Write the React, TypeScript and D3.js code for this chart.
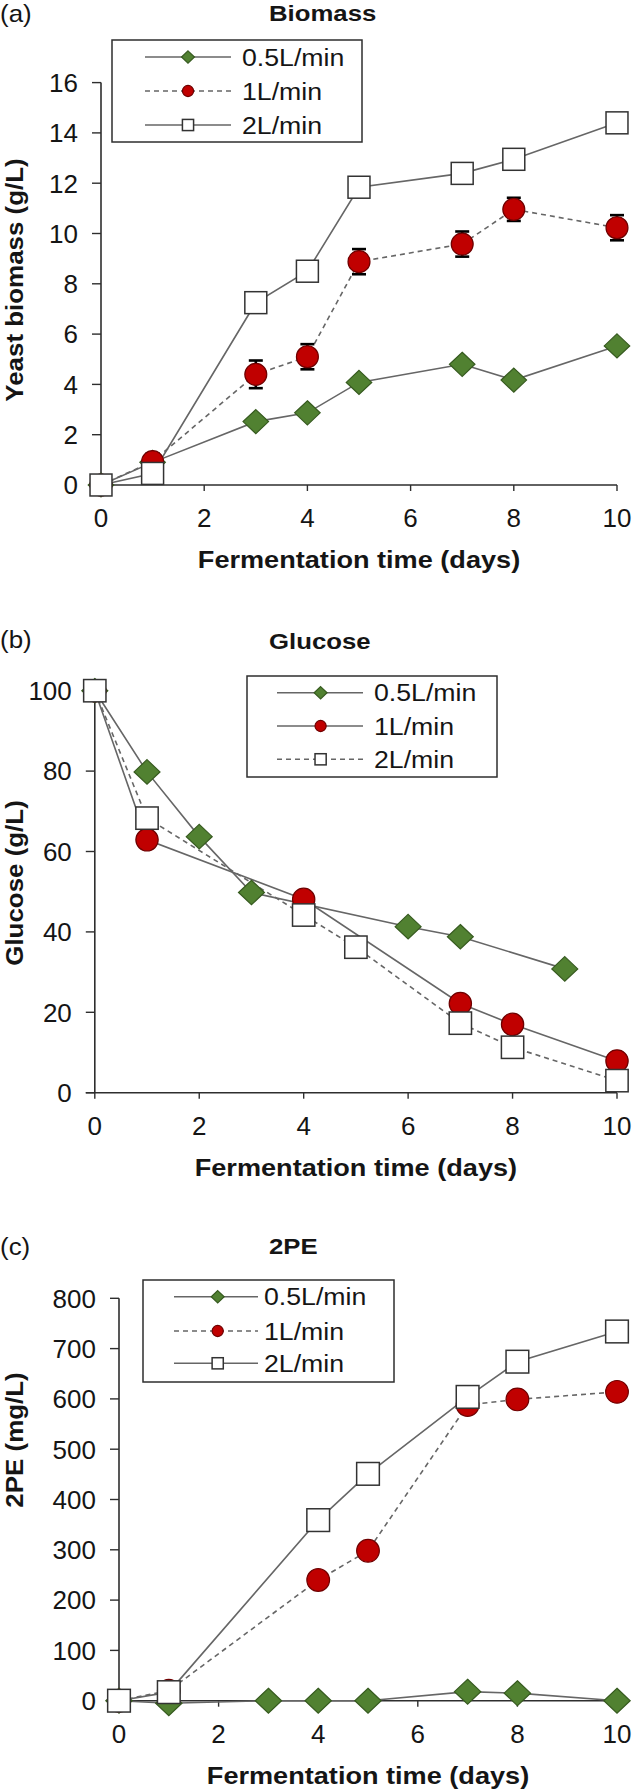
import React from 'react';
import * as d3 from 'd3';

// ---------- DATA ----------
const seriesNames = ['0.5L/min', '1L/min', '2L/min'];

// Biomass (g/L)
const bioDays05 = [0, 1, 3, 4, 5, 7, 8, 10];
const bio05 = [0, 0.9, 2.52, 2.87, 4.08, 4.8, 4.17, 5.53];
const bioDays1 = [0, 1, 3, 4, 5, 7, 8, 10];
const bio1 = [0, 0.93, 4.4, 5.1, 8.88, 9.58, 10.96, 10.23];
const bio1Err = [0, 0.33, 0.55, 0.5, 0.5, 0.5, 0.46, 0.5];
const bioDays2 = [0, 1, 3, 4, 5, 7, 8, 10];
const bio2 = [0, 0.46, 7.25, 8.5, 11.84, 12.39, 12.95, 14.4];

// Glucose (g/L)
const gluDays05 = [0, 1, 2, 3, 6, 7, 9];
const glu05 = [100, 79.8, 63.7, 49.8, 41.3, 38.8, 30.8];
const gluDays1 = [0, 1, 4, 7, 8, 10];
const glu1 = [100, 62.9, 48.1, 22.2, 17.0, 7.9];
const gluDays2 = [0, 1, 4, 5, 7, 8, 10];
const glu2 = [100, 68.3, 44.2, 36.2, 17.3, 11.3, 3.0];

// 2PE (mg/L)
const peDays05 = [0, 1, 3, 4, 5, 7, 8, 10];
const pe05 = [0, -5, 0, 0, 0, 18, 15, 0];
const peDays1 = [0, 1, 4, 5, 7, 8, 10];
const pe1 = [0, 20, 240, 298, 588, 599, 614];
const peDays2 = [0, 1, 4, 5, 7, 8, 10];
const pe2 = [0, 17, 359, 451, 604, 674, 734];

const xTicks = [0, 2, 4, 6, 8, 10];
const bioTicks = [0, 2, 4, 6, 8, 10, 12, 14, 16];
const gluTicks = [0, 20, 40, 60, 80, 100];
const peTicks = [0, 100, 200, 300, 400, 500, 600, 700, 800];

// ---------- STYLE ----------
const FONT = "'Liberation Sans', Arial, Helvetica, sans-serif";
const TXT = '#151515';
const AXIS = '#2e2e2e';
const LINE = '#666666';
const GREEN = '#518131';
const GREEN_S = '#365a1f';
const RED = '#c00000';
const RED_S = '#6e0000';
const SQ_S = '#333333';

type MarkerType = 'diamond' | 'circle' | 'square';

function Marker({ type, x, y, s }: { type: MarkerType; x: number; y: number; s: number }) {
  if (type === 'diamond') {
    const h = s * 1.02;
    const w = s * 1.08;
    return (
      <path
        d={`M${x},${y - h}L${x + w},${y}L${x},${y + h}L${x - w},${y}Z`}
        fill={GREEN}
        stroke={GREEN_S}
        strokeWidth={1.2}
      />
    );
  }
  if (type === 'circle') {
    return <circle cx={x} cy={y} r={s * 0.93} fill={RED} stroke={RED_S} strokeWidth={1.2} />;
  }
  return (
    <rect x={x - s * 0.93} y={y - s * 0.93} width={s * 1.86} height={s * 1.86} fill="#fff" stroke={SQ_S} strokeWidth={1.5} />
  );
}

function T({
  x, y, size, bold = false, anchor = 'middle', sx = 1, rotate = false, children,
}: {
  x: number; y: number; size: number; bold?: boolean; anchor?: string; sx?: number; rotate?: boolean; children: React.ReactNode;
}) {
  return (
    <text
      transform={`translate(${x},${y})${rotate ? ' rotate(-90)' : ''} scale(${sx},1)`}
      textAnchor={anchor as any}
      fontSize={size}
      fontWeight={bold ? 'bold' : 'normal'}
      fontFamily={FONT}
      fill={TXT}
    >
      {children}
    </text>
  );
}

type Series = {
  days: number[];
  values: number[];
  err?: number[];
  marker: MarkerType;
  dashed: boolean;
};

type PanelCfg = {
  letter: string;
  letterY: number;
  title: string;
  titleY: number;
  yLabel: string;
  yLabelY: number;
  yDomain: [number, number];
  yTicks: number[];
  xRange: [number, number];
  yRange: [number, number];
  series: Series[];
  legend: { x: number; y: number; w: number; h: number; rows: number[]; l1: number; l2: number; mx: number; tx: number };
  markerSize: number;
};

function Panel({ cfg }: { cfg: PanelCfg }) {
  const x = d3.scaleLinear().domain([0, 10]).range(cfg.xRange);
  const y = d3.scaleLinear().domain(cfg.yDomain).range(cfg.yRange);
  const ax = cfg.xRange[0];
  const ay = cfg.yRange[0];
  const tickL = 9;
  const lineGen = d3
    .line<[number, number]>()
    .x((d) => x(d[0]))
    .y((d) => y(d[1]));
  const lg = cfg.legend;
  return (
    <g>
      <T x={0} y={cfg.letterY} size={24} sx={1.08} anchor="start">
        {cfg.letter}
      </T>
      <T x={269} y={cfg.titleY} size={23} bold sx={1.12} anchor="start">
        {cfg.title}
      </T>
      <T x={23} y={cfg.yLabelY} size={24} bold sx={1.08} rotate>
        {cfg.yLabel}
      </T>
      {/* axes */}
      <line x1={ax} x2={ax} y1={ay} y2={y(cfg.yDomain[1])} stroke={AXIS} strokeWidth={1.6} />
      <line x1={ax - tickL} x2={cfg.xRange[1]} y1={ay} y2={ay} stroke={AXIS} strokeWidth={1.6} />
      {cfg.yTicks.map((t) => (
        <g key={'yt' + t}>
          <line x1={ax - tickL} x2={ax} y1={y(t)} y2={y(t)} stroke={AXIS} strokeWidth={1.4} />
          <T x={ax - 23} y={y(t) + 9.3} size={26} anchor="end">
            {t}
          </T>
        </g>
      ))}
      {xTicks.map((t) => (
        <g key={'xt' + t}>
          <line x1={x(t)} x2={x(t)} y1={ay} y2={ay + 6} stroke={AXIS} strokeWidth={1.4} />
          <T x={x(t)} y={ay + 42} size={26}>
            {t}
          </T>
        </g>
      ))}
      <T x={(cfg.xRange[0] + cfg.xRange[1]) / 2} y={ay + 83} size={24} bold sx={1.13}>
        Fermentation time (days)
      </T>
      {/* lines */}
      {cfg.series.map((s, i) => (
        <path
          key={'l' + i}
          d={lineGen(s.days.map((d, j) => [d, s.values[j]] as [number, number])) || ''}
          fill="none"
          stroke={LINE}
          strokeWidth={1.6}
          strokeDasharray={s.dashed ? '5,4' : undefined}
        />
      ))}
      {/* markers */}
      {cfg.series.map((s, i) => (
        <g key={'m' + i}>
          {s.days.map((d, j) => (
            <g key={j}>
              {s.err && s.err[j] > 0 ? (
                <g stroke="#000" strokeWidth={2.6}>
                  <line x1={x(d)} x2={x(d)} y1={y(s.values[j] - s.err[j])} y2={y(s.values[j] + s.err[j])} />
                  <line x1={x(d) - 7} x2={x(d) + 7} y1={y(s.values[j] + s.err[j])} y2={y(s.values[j] + s.err[j])} />
                  <line x1={x(d) - 7} x2={x(d) + 7} y1={y(s.values[j] - s.err[j])} y2={y(s.values[j] - s.err[j])} />
                </g>
              ) : null}
              <Marker type={s.marker} x={x(d)} y={y(s.values[j])} s={cfg.markerSize} />
            </g>
          ))}
        </g>
      ))}
      {/* legend */}
      <rect x={lg.x} y={lg.y} width={lg.w} height={lg.h} fill="#fff" stroke={AXIS} strokeWidth={1.5} />
      {cfg.series.map((s, i) => (
        <g key={'lg' + i}>
          <line
            x1={lg.l1}
            x2={lg.l2}
            y1={lg.rows[i]}
            y2={lg.rows[i]}
            stroke={LINE}
            strokeWidth={1.6}
            strokeDasharray={s.dashed ? '5,4' : undefined}
          />
          <Marker type={s.marker} x={lg.mx} y={lg.rows[i]} s={6} />
          <T x={lg.tx} y={lg.rows[i] + 8.5} size={23} anchor="start" sx={1.16}>
            {seriesNames[i]}
          </T>
        </g>
      ))}
    </g>
  );
}

const panels: PanelCfg[] = [
  {
    letter: '(a)',
    letterY: 22,
    title: 'Biomass',
    titleY: 21,
    yLabel: 'Yeast biomass  (g/L)',
    yLabelY: 280,
    yDomain: [0, 16],
    yTicks: bioTicks,
    xRange: [101, 617],
    yRange: [485, 82.6],
    markerSize: 11.8,
    series: [
      { days: bioDays05, values: bio05, marker: 'diamond', dashed: false },
      { days: bioDays1, values: bio1, err: bio1Err, marker: 'circle', dashed: true },
      { days: bioDays2, values: bio2, marker: 'square', dashed: false },
    ],
    legend: { x: 112, y: 40, w: 250, h: 102, rows: [57, 91, 125], l1: 145, l2: 231, mx: 188, tx: 242 },
  },
  {
    letter: '(b)',
    letterY: 648,
    title: 'Glucose',
    titleY: 649,
    yLabel: 'Glucose  (g/L)',
    yLabelY: 883,
    yDomain: [0, 100],
    yTicks: gluTicks,
    xRange: [94.8, 617],
    yRange: [1092.7, 690.7],
    markerSize: 12,
    series: [
      { days: gluDays05, values: glu05, marker: 'diamond', dashed: false },
      { days: gluDays1, values: glu1, marker: 'circle', dashed: false },
      { days: gluDays2, values: glu2, marker: 'square', dashed: true },
    ],
    legend: { x: 247, y: 676, w: 250, h: 101, rows: [692.7, 726, 759.3], l1: 277, l2: 363, mx: 320.6, tx: 374 },
  },
  {
    letter: '(c)',
    letterY: 1255,
    title: '2PE',
    titleY: 1254,
    yLabel: '2PE  (mg/L)',
    yLabelY: 1440,
    yDomain: [0, 800],
    yTicks: peTicks,
    xRange: [119, 617],
    yRange: [1700.7, 1298.3],
    markerSize: 12.2,
    series: [
      { days: peDays05, values: pe05, marker: 'diamond', dashed: false },
      { days: peDays1, values: pe1, marker: 'circle', dashed: true },
      { days: peDays2, values: pe2, marker: 'square', dashed: false },
    ],
    legend: { x: 143, y: 1280, w: 251, h: 102, rows: [1296.7, 1331, 1363.3], l1: 174, l2: 258, mx: 217.7, tx: 264 },
  },
];

export default function App() {
  return (
    <svg
      width={632}
      height={1791}
      viewBox="0 0 632 1791"
      style={{ position: 'absolute', left: 0, top: 0, background: '#fff' }}
    >
      <rect x={0} y={0} width={632} height={1791} fill="#fff" />
      {panels.map((p) => (
        <Panel key={p.letter} cfg={p} />
      ))}
    </svg>
  );
}
